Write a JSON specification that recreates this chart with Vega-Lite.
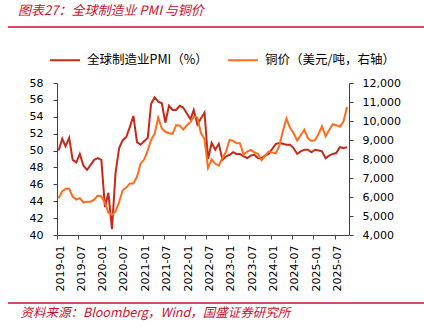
{
  "$schema": "https://vega.github.io/schema/vega-lite/v6.json",
  "width": 292,
  "height": 152,
  "autosize": {"type": "none"},
  "padding": {"left": 57, "top": 83, "right": 75, "bottom": 93},
  "background": "white",
  "config": {
    "font": "DejaVu Sans",
    "view": {"stroke": null},
    "axis": {"grid": false, "domainColor": "#404040", "tickColor": "#404040", "tickSize": 4, "labelColor": "#000000", "labelFontSize": 11, "labelFont": "DejaVu Sans"}
  },
  "title": {
    "text": "图表27：全球制造业 PMI 与铜价",
    "anchor": "start",
    "frame": "group",
    "dx": -39,
    "offset": 8,
    "font": "Noto Sans CJK SC",
    "fontSize": 13,
    "fontWeight": "normal",
    "fontStyle": "italic",
    "color": "#C8102E"
  },
  "data": {
    "values": [
      {"date": "2019-01-15", "pmi": 50.0, "copper": 5939},
      {"date": "2019-02-15", "pmi": 51.4, "copper": 6301},
      {"date": "2019-03-15", "pmi": 50.5, "copper": 6439},
      {"date": "2019-04-15", "pmi": 51.5, "copper": 6433},
      {"date": "2019-05-15", "pmi": 48.9, "copper": 6026},
      {"date": "2019-06-15", "pmi": 48.6, "copper": 5868},
      {"date": "2019-07-15", "pmi": 49.6, "copper": 5942},
      {"date": "2019-08-15", "pmi": 48.2, "copper": 5710},
      {"date": "2019-09-15", "pmi": 47.7, "copper": 5756},
      {"date": "2019-10-15", "pmi": 48.3, "copper": 5756},
      {"date": "2019-11-15", "pmi": 48.9, "copper": 5860},
      {"date": "2019-12-15", "pmi": 49.1, "copper": 6077},
      {"date": "2020-01-15", "pmi": 48.9, "copper": 6031},
      {"date": "2020-02-15", "pmi": 43.3, "copper": 5687},
      {"date": "2020-03-15", "pmi": 45.0, "copper": 5182},
      {"date": "2020-04-15", "pmi": 40.7, "copper": 5058},
      {"date": "2020-05-15", "pmi": 47.3, "copper": 5239},
      {"date": "2020-06-15", "pmi": 50.3, "copper": 5735},
      {"date": "2020-07-15", "pmi": 51.2, "copper": 6354},
      {"date": "2020-08-15", "pmi": 51.6, "copper": 6497},
      {"date": "2020-09-15", "pmi": 52.8, "copper": 6705},
      {"date": "2020-10-15", "pmi": 54.1, "copper": 6713},
      {"date": "2020-11-15", "pmi": 51.0, "copper": 7064},
      {"date": "2020-12-15", "pmi": 50.7, "copper": 7756},
      {"date": "2021-01-15", "pmi": 51.1, "copper": 7971},
      {"date": "2021-02-15", "pmi": 51.5, "copper": 8461},
      {"date": "2021-03-15", "pmi": 55.5, "copper": 9005},
      {"date": "2021-04-15", "pmi": 56.3, "copper": 9336},
      {"date": "2021-05-15", "pmi": 55.8, "copper": 10184},
      {"date": "2021-06-15", "pmi": 55.6, "copper": 9612},
      {"date": "2021-07-15", "pmi": 53.3, "copper": 9433},
      {"date": "2021-08-15", "pmi": 55.3, "copper": 9357},
      {"date": "2021-09-15", "pmi": 54.8, "copper": 9324},
      {"date": "2021-10-15", "pmi": 54.8, "copper": 9778},
      {"date": "2021-11-15", "pmi": 55.3, "copper": 9765},
      {"date": "2021-12-15", "pmi": 55.1, "copper": 9551},
      {"date": "2022-01-15", "pmi": 54.4, "copper": 9776},
      {"date": "2022-02-15", "pmi": 53.7, "copper": 9941},
      {"date": "2022-03-15", "pmi": 54.8, "copper": 10238},
      {"date": "2022-04-15", "pmi": 53.1, "copper": 10183},
      {"date": "2022-05-15", "pmi": 53.8, "copper": 9362},
      {"date": "2022-06-15", "pmi": 54.5, "copper": 9033},
      {"date": "2022-07-15", "pmi": 49.0, "copper": 7530},
      {"date": "2022-08-15", "pmi": 50.9, "copper": 7982},
      {"date": "2022-09-15", "pmi": 50.1, "copper": 7746},
      {"date": "2022-10-15", "pmi": 50.8, "copper": 7651},
      {"date": "2022-11-15", "pmi": 48.9, "copper": 8049},
      {"date": "2022-12-15", "pmi": 49.3, "copper": 8367},
      {"date": "2023-01-15", "pmi": 49.5, "copper": 8999},
      {"date": "2023-02-15", "pmi": 49.8, "copper": 8955},
      {"date": "2023-03-15", "pmi": 49.6, "copper": 8836},
      {"date": "2023-04-15", "pmi": 49.6, "copper": 8814},
      {"date": "2023-05-15", "pmi": 49.3, "copper": 8234},
      {"date": "2023-06-15", "pmi": 49.1, "copper": 8386},
      {"date": "2023-07-15", "pmi": 49.4, "copper": 8478},
      {"date": "2023-08-15", "pmi": 49.5, "copper": 8352},
      {"date": "2023-09-15", "pmi": 49.1, "copper": 8270},
      {"date": "2023-10-15", "pmi": 49.1, "copper": 7940},
      {"date": "2023-11-15", "pmi": 49.4, "copper": 8163},
      {"date": "2023-12-15", "pmi": 49.6, "copper": 8394},
      {"date": "2024-01-15", "pmi": 50.2, "copper": 8344},
      {"date": "2024-02-15", "pmi": 50.8, "copper": 8311},
      {"date": "2024-03-15", "pmi": 50.9, "copper": 8675},
      {"date": "2024-04-15", "pmi": 50.8, "copper": 9481},
      {"date": "2024-05-15", "pmi": 50.7, "copper": 10129},
      {"date": "2024-06-15", "pmi": 50.7, "copper": 9642},
      {"date": "2024-07-15", "pmi": 50.3, "copper": 9370},
      {"date": "2024-08-15", "pmi": 49.6, "copper": 8970},
      {"date": "2024-09-15", "pmi": 49.9, "copper": 9267},
      {"date": "2024-10-15", "pmi": 50.1, "copper": 9548},
      {"date": "2024-11-15", "pmi": 50.1, "copper": 9089},
      {"date": "2024-12-15", "pmi": 49.8, "copper": 8951},
      {"date": "2025-01-15", "pmi": 50.1, "copper": 8994},
      {"date": "2025-02-15", "pmi": 50.0, "copper": 9330},
      {"date": "2025-03-15", "pmi": 49.9, "copper": 9730},
      {"date": "2025-04-15", "pmi": 49.1, "copper": 9190},
      {"date": "2025-05-15", "pmi": 49.4, "copper": 9530},
      {"date": "2025-06-15", "pmi": 49.6, "copper": 9830},
      {"date": "2025-07-15", "pmi": 49.7, "copper": 9780},
      {"date": "2025-08-15", "pmi": 50.4, "copper": 9700},
      {"date": "2025-09-15", "pmi": 50.3, "copper": 9970},
      {"date": "2025-10-15", "pmi": 50.4, "copper": 10740}
    ]
  },
  "layer": [
    {
      "mark": {"type": "line", "strokeWidth": 2},
      "encoding": {
        "x": {
          "field": "date",
          "type": "temporal",
          "scale": {"domain": [{"year": 2019, "month": 1, "date": 1}, {"year": 2025, "month": 11, "date": 1}]},
          "axis": {
            "format": "%Y-%m",
            "tickCount": {"interval": "month", "step": 6},
            "labelAngle": -90,
            "labelPadding": 6,
            "labelOffset": 3,
            "labelFlush": false,
            "labelOverlap": false,
            "title": "资料来源：Bloomberg，Wind，国盛证券研究所",
            "titleX": -37,
            "titleY": 77,
            "titleAlign": "left",
            "titleBaseline": "middle",
            "titleAngle": 0,
            "titleFont": "Noto Sans CJK SC",
            "titleFontSize": 12.5,
            "titleFontWeight": "normal",
            "titleFontStyle": "italic",
            "titleColor": "#C8102E"
          }
        },
        "y": {
          "field": "pmi",
          "type": "quantitative",
          "scale": {"domain": [40, 58], "nice": false, "zero": false},
          "axis": {"values": [40, 42, 44, 46, 48, 50, 52, 54, 56, 58], "labelPadding": 10, "title": null}
        },
        "color": {
          "datum": "全球制造业PMI（%）",
          "scale": {"domain": ["全球制造业PMI（%）", "铜价（美元/吨，右轴）"], "range": ["#C52A1A", "#FF6C1C"]},
          "legend": {
            "title": null,
            "orient": "none",
            "legendX": -8,
            "legendY": -39,
            "direction": "horizontal",
            "symbolType": "stroke",
            "symbolSize": 900,
            "symbolStrokeWidth": 2,
            "labelOffset": 6,
            "columnPadding": 16,
            "padding": 0,
            "labelFont": "Noto Sans CJK SC",
            "labelFontSize": 12.5,
            "labelColor": "#000000",
            "labelLimit": 300
          }
        }
      }
    },
    {
      "mark": {"type": "line", "strokeWidth": 2},
      "encoding": {
        "x": {"field": "date", "type": "temporal"},
        "y": {
          "field": "copper",
          "type": "quantitative",
          "scale": {"domain": [4000, 12000], "nice": false, "zero": false},
          "axis": {"orient": "right", "values": [4000, 5000, 6000, 7000, 8000, 9000, 10000, 11000, 12000], "format": ",.0f", "labelPadding": 9, "title": null}
        },
        "color": {"datum": "铜价（美元/吨，右轴）"}
      }
    },
    {
      "data": {"values": [{"line": "top"}]},
      "mark": {"type": "rule", "color": "#C8102E", "strokeWidth": 1.5},
      "encoding": {"x": {"value": -49}, "x2": {"value": 367}, "y": {"value": -56}}
    },
    {
      "data": {"values": [{"line": "bottom"}]},
      "mark": {"type": "rule", "color": "#C8102E", "strokeWidth": 1.5},
      "encoding": {"x": {"value": -49}, "x2": {"value": 367}, "y": {"value": 220}}
    }
  ],
  "resolve": {"scale": {"y": "independent"}}
}
